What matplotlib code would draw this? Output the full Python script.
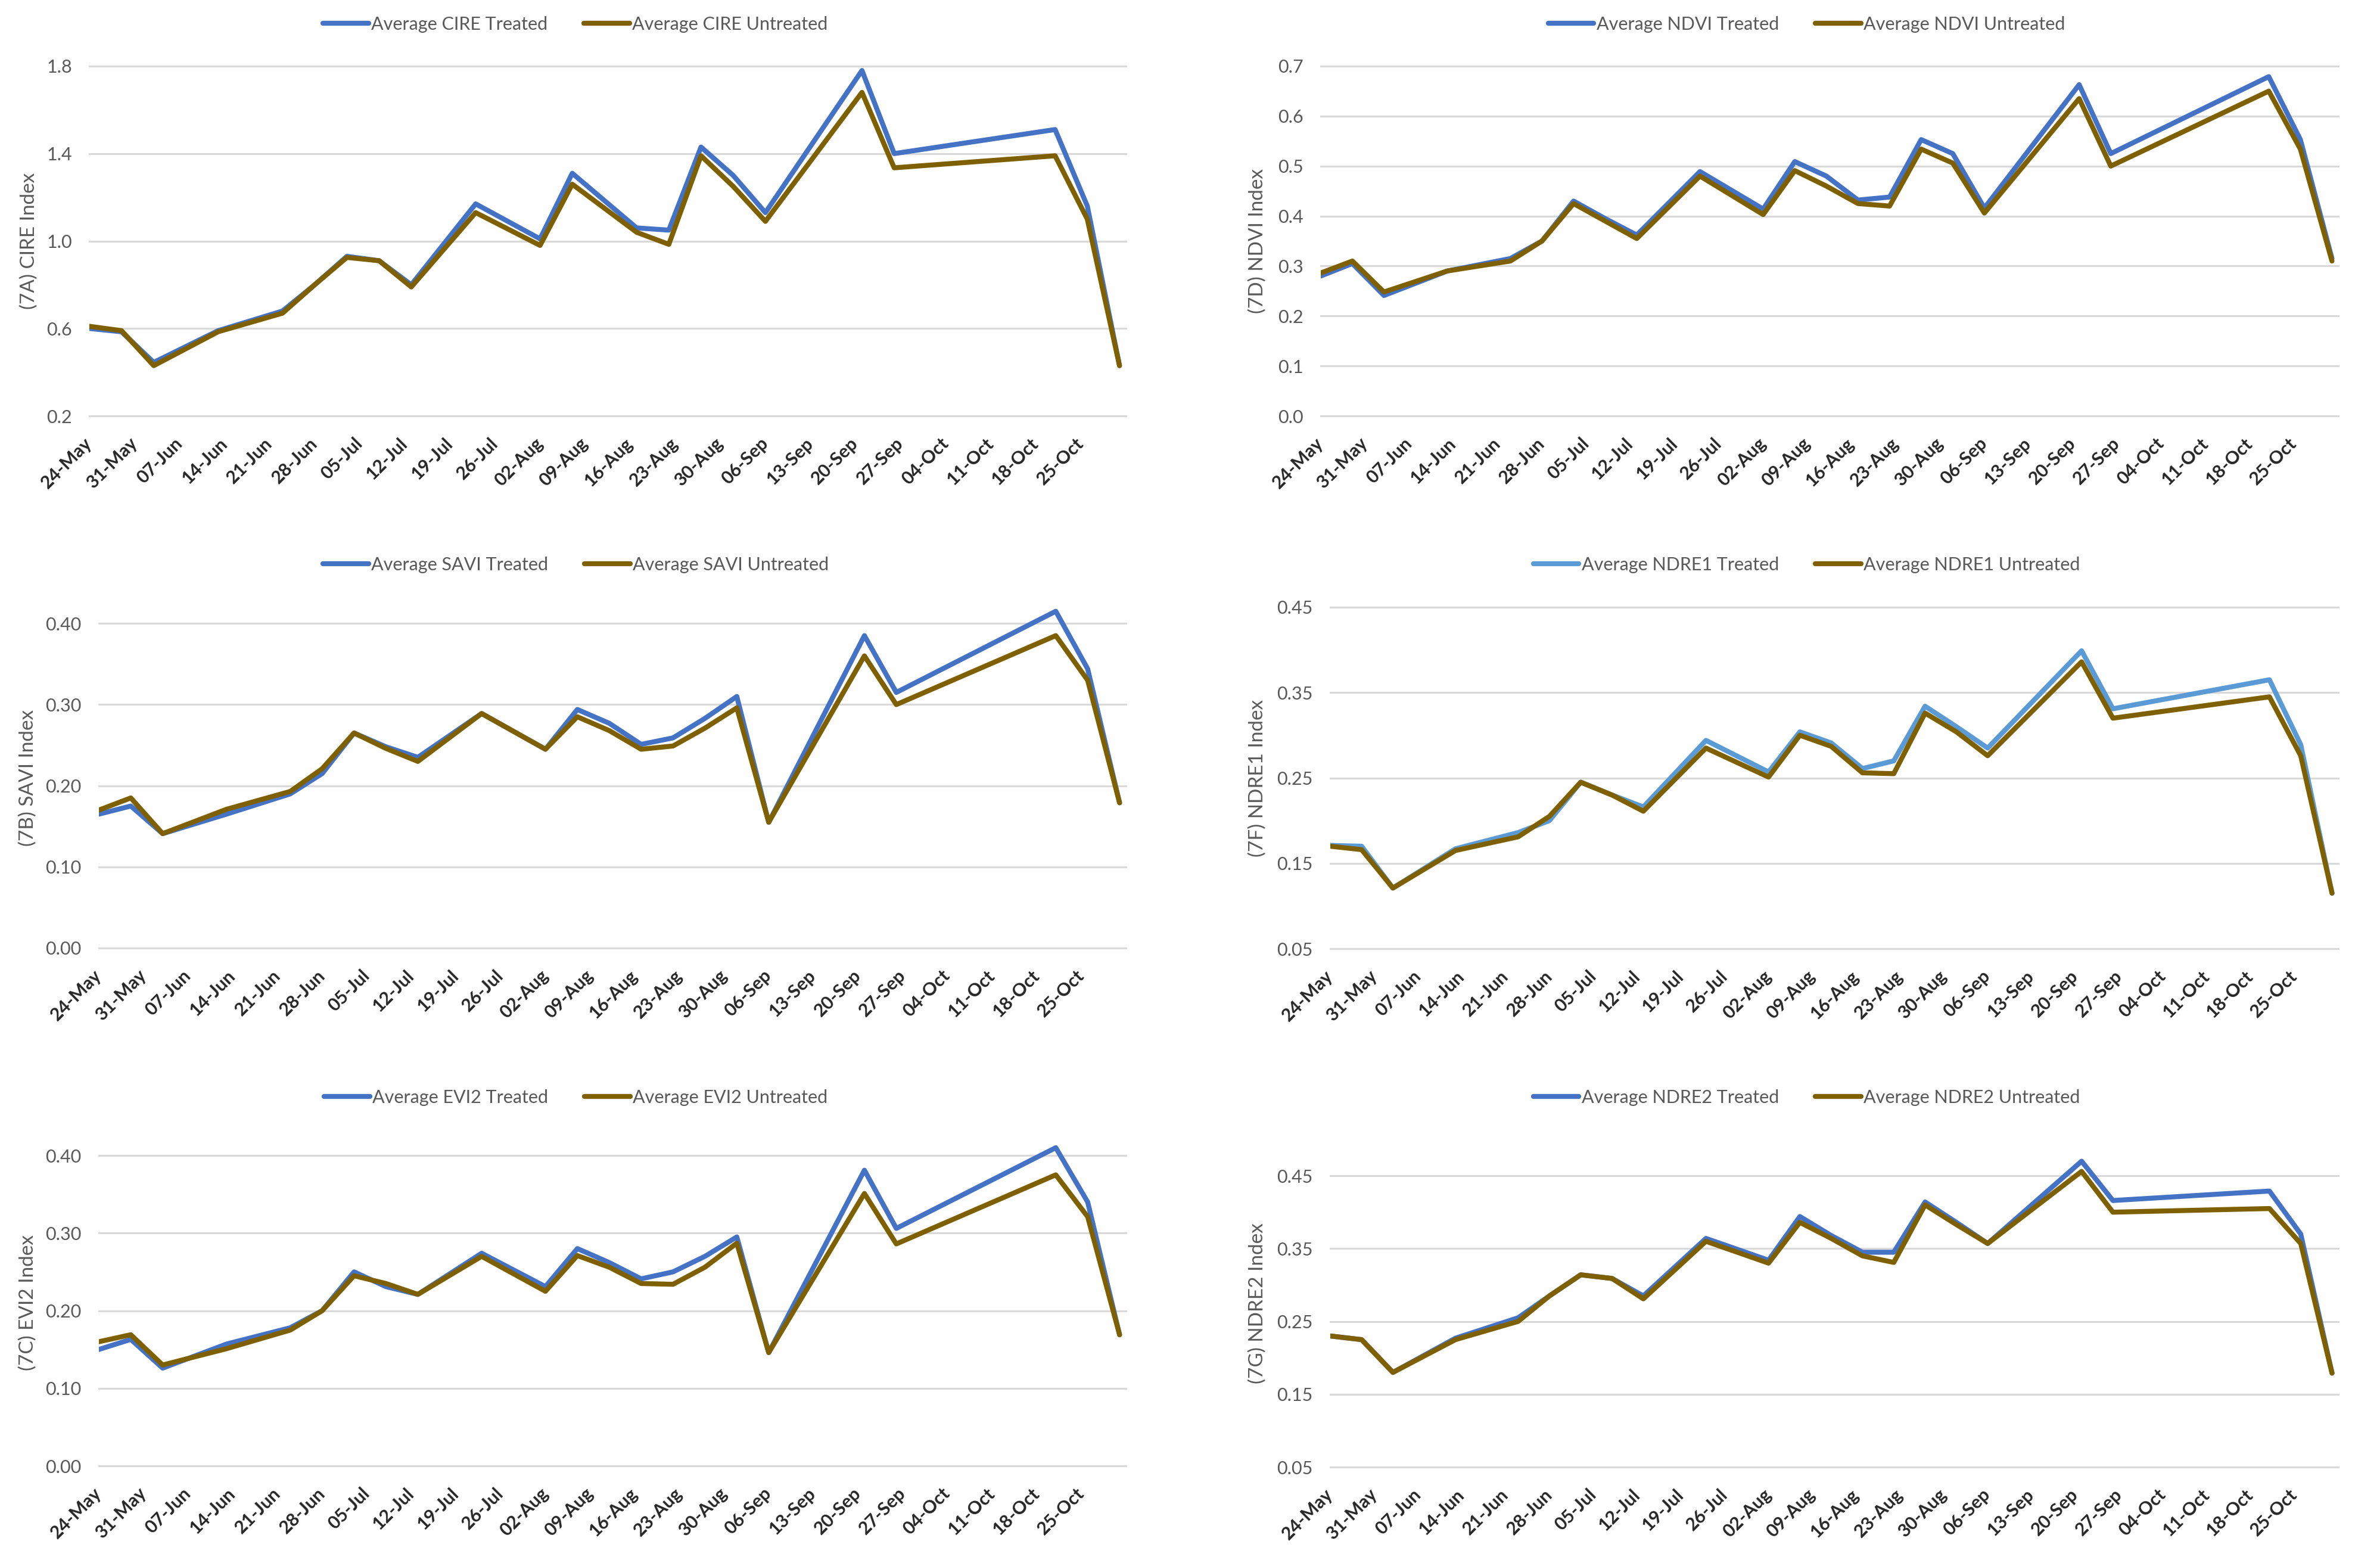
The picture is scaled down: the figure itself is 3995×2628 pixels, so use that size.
"""
Six-panel vegetation index time series (treated vs untreated),
laid out like the Excel figure 7A-7G.
"""

import matplotlib.pyplot as plt
import matplotlib.dates as mdates
import numpy as np
import pandas as pd

# ── Data ───────────────────────────────────────────────────────────────────

DATES = pd.to_datetime([
    "2021-05-24", "2021-05-29", "2021-06-03", "2021-06-13", "2021-06-23",
    "2021-06-28", "2021-07-03", "2021-07-08", "2021-07-13", "2021-07-23",
    "2021-08-02", "2021-08-07", "2021-08-12", "2021-08-17", "2021-08-22",
    "2021-08-27", "2021-09-01", "2021-09-06", "2021-09-21", "2021-09-26",
    "2021-10-21", "2021-10-26", "2021-10-31",
])

cire_treated = [0.60, 0.585, 0.445, 0.59, 0.68, 0.80, 0.93, 0.91, 0.80, 1.17, 1.01, 1.31,
                1.185, 1.06, 1.05, 1.43, 1.30, 1.13, 1.78, 1.40, 1.51, 1.16, 0.43]
cire_untreated = [0.61, 0.59, 0.43, 0.585, 0.67, 0.80, 0.925, 0.91, 0.79, 1.13, 0.98, 1.26,
                  1.15, 1.04, 0.985, 1.39, 1.25, 1.09, 1.68, 1.335, 1.39, 1.10, 0.43]

ndvi_treated = [0.28, 0.305, 0.241, 0.29, 0.315, 0.35, 0.43, 0.395, 0.362, 0.489, 0.414, 0.509,
                0.48, 0.432, 0.438, 0.553, 0.525, 0.416, 0.663, 0.525, 0.679, 0.553, 0.315]
ndvi_untreated = [0.286, 0.31, 0.248, 0.29, 0.31, 0.35, 0.425, 0.39, 0.355, 0.48, 0.403, 0.491,
                  0.46, 0.425, 0.42, 0.534, 0.506, 0.406, 0.635, 0.50, 0.65, 0.534, 0.31]

savi_treated = [0.165, 0.175, 0.141, 0.165, 0.19, 0.215, 0.265, 0.248, 0.235, 0.289, 0.245, 0.294,
                0.277, 0.251, 0.259, 0.283, 0.31, 0.155, 0.385, 0.315, 0.415, 0.344, 0.179]
savi_untreated = [0.17, 0.185, 0.141, 0.171, 0.193, 0.221, 0.265, 0.246, 0.23, 0.289, 0.245, 0.285,
                  0.268, 0.245, 0.249, 0.271, 0.296, 0.155, 0.36, 0.30, 0.385, 0.33, 0.179]

ndre1_treated = [0.171, 0.17, 0.121, 0.167, 0.186, 0.20, 0.245, 0.23, 0.216, 0.294, 0.257, 0.304,
                 0.291, 0.261, 0.27, 0.334, 0.31, 0.285, 0.399, 0.331, 0.365, 0.289, 0.115]
ndre1_untreated = [0.17, 0.166, 0.121, 0.165, 0.181, 0.205, 0.245, 0.23, 0.211, 0.285, 0.251, 0.30,
                   0.287, 0.256, 0.255, 0.326, 0.304, 0.276, 0.386, 0.32, 0.345, 0.276, 0.115]

evi2_treated = [0.15, 0.163, 0.126, 0.157, 0.178, 0.20, 0.25, 0.231, 0.221, 0.274, 0.231, 0.28,
                0.262, 0.241, 0.25, 0.27, 0.295, 0.146, 0.381, 0.306, 0.41, 0.34, 0.169]
evi2_untreated = [0.16, 0.169, 0.13, 0.151, 0.175, 0.20, 0.245, 0.235, 0.221, 0.27, 0.225, 0.271,
                  0.256, 0.235, 0.234, 0.256, 0.287, 0.146, 0.351, 0.286, 0.375, 0.321, 0.169]

ndre2_treated = [0.23, 0.225, 0.18, 0.227, 0.255, 0.285, 0.314, 0.309, 0.285, 0.364, 0.334, 0.394,
                 0.368, 0.345, 0.345, 0.414, 0.386, 0.357, 0.47, 0.416, 0.429, 0.37, 0.179]
ndre2_untreated = [0.23, 0.225, 0.18, 0.225, 0.25, 0.285, 0.314, 0.309, 0.281, 0.36, 0.33, 0.386,
                   0.364, 0.34, 0.331, 0.41, 0.383, 0.357, 0.456, 0.40, 0.405, 0.357, 0.179]

X_TICKS = pd.date_range("2021-05-24", "2021-10-25", freq="7D")
X_LIM = (pd.Timestamp("2021-05-24"), pd.Timestamp("2021-11-01"))

# ── Style ──────────────────────────────────────────────────────────────────

plt.rcParams.update({"font.family": ["Lato", "DejaVu Sans"]})

BLUE = "#4472C4"
LIGHT_BLUE = "#5B9BD5"
GOLD = "#7F6000"
GRID = "#D9D9D9"
TEXT = "#595959"

W, H = 3995, 2628


def px_rect(left, top, right, bottom):
    return [left / W, 1 - bottom / H, (right - left) / W, (bottom - top) / H]


def draw_panel(fig, box, name, tag, treated, untreated, ylim, yticks, fmt,
               legend_xy, ylabel_x, treated_color=BLUE):
    left, top, right, bottom = box
    ax = fig.add_axes(px_rect(*box))

    ax.plot(DATES, treated, color=treated_color, lw=6, label=f"Average {name} Treated",
            solid_joinstyle="round", solid_capstyle="round", zorder=3)
    ax.plot(DATES, untreated, color=GOLD, lw=6, label=f"Average {name} Untreated",
            solid_joinstyle="round", solid_capstyle="round", zorder=4)

    ax.set_xlim(*X_LIM)
    ax.set_ylim(*ylim)
    ax.set_yticks(yticks)
    ax.yaxis.set_major_formatter(plt.FormatStrFormatter(fmt))
    ax.set_xticks(X_TICKS)
    ax.xaxis.set_major_formatter(mdates.DateFormatter("%d-%b"))

    for s in ax.spines.values():
        s.set_visible(False)
    ax.grid(True, axis="y", color=GRID, lw=2.2)
    ax.set_axisbelow(True)
    for gl in ax.yaxis.get_gridlines():
        gl.set_clip_on(False)

    ax.tick_params(axis="y", length=0, pad=21, labelsize=22, labelcolor=TEXT)
    ax.tick_params(axis="x", length=0, pad=30, labelsize=22, labelcolor="#262626")
    for lbl in ax.get_xticklabels():
        lbl.set_rotation(45)
        lbl.set_ha("right")
        lbl.set_va("center")
        lbl.set_rotation_mode("anchor")
        lbl.set_fontweight("bold")

    ax.set_ylabel(f"({tag}) {name} Index", fontsize=24, color=TEXT)
    ax.yaxis.set_label_coords((ylabel_x - left) / (right - left), 0.5)

    ax.legend(loc="center", bbox_to_anchor=(legend_xy[0] / W, 1 - legend_xy[1] / H),
              bbox_transform=fig.transFigure, ncol=2, frameon=False, fontsize=22,
              labelcolor=TEXT, handlelength=2.5, handletextpad=0.15, columnspacing=2.0)
    return ax


fig = plt.figure(figsize=(W / 100, H / 100), dpi=100)
fig.patch.set_facecolor("white")

draw_panel(fig, (150, 111, 1890, 698), "CIRE", "7A", cire_treated, cire_untreated,
           (0.2, 1.8), np.arange(0.2, 1.81, 0.4), "%.1f", (966, 41), 64)
draw_panel(fig, (2217, 111, 3925, 698), "NDVI", "7D", ndvi_treated, ndvi_untreated,
           (0.0, 0.7), np.arange(0.0, 0.71, 0.1), "%.1f", (3033, 41), 2126)
draw_panel(fig, (166, 1019, 1890, 1591), "SAVI", "7B", savi_treated, savi_untreated,
           (0.0, 0.42), np.arange(0.0, 0.41, 0.1), "%.2f", (967, 948), 62)
draw_panel(fig, (2233, 1019, 3925, 1592), "NDRE1", "7F", ndre1_treated, ndre1_untreated,
           (0.05, 0.45), np.arange(0.05, 0.46, 0.1), "%.2f", (3033, 948), 2126,
           treated_color=LIGHT_BLUE)
draw_panel(fig, (166, 1913, 1890, 2460), "EVI2", "7C", evi2_treated, evi2_untreated,
           (0.0, 0.42), np.arange(0.0, 0.41, 0.1), "%.2f", (967, 1842), 62)
draw_panel(fig, (2233, 1912, 3925, 2462), "NDRE2", "7G", ndre2_treated, ndre2_untreated,
           (0.05, 0.50), np.arange(0.05, 0.46, 0.1), "%.2f", (3033, 1842), 2126)

fig.savefig("out.png", dpi=100, facecolor="white")
